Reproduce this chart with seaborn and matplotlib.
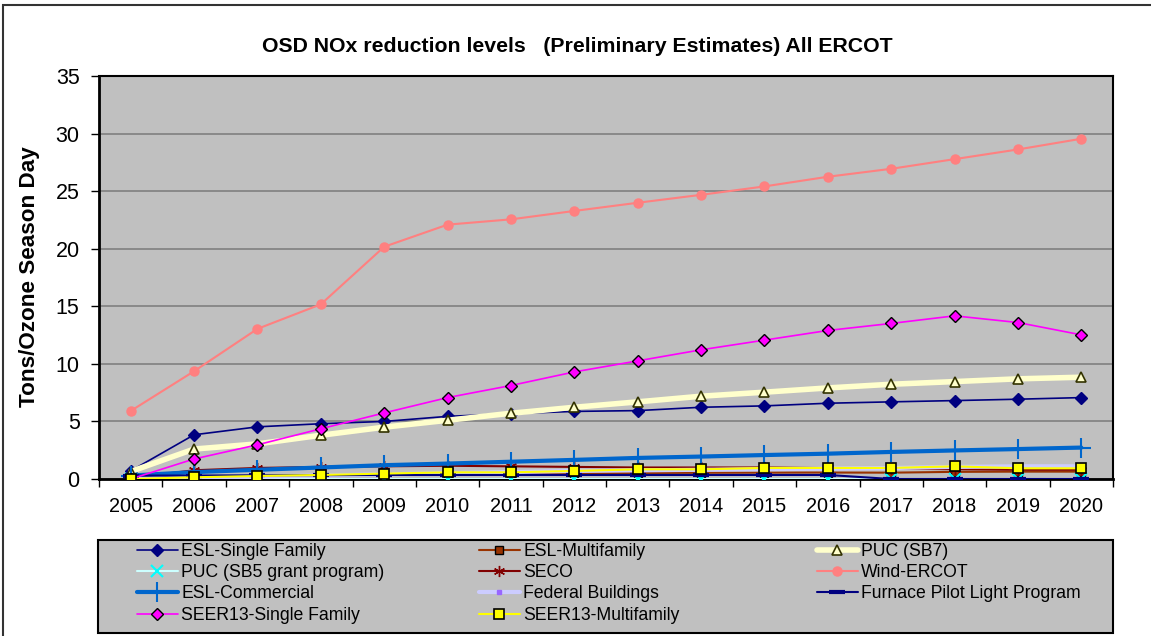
import matplotlib
matplotlib.use("Agg")
import matplotlib.pyplot as plt
from matplotlib.patches import Rectangle
import seaborn as sns
import pandas as pd
import numpy as np

years = ["2005", "2006", "2007", "2008", "2009", "2010", "2011", "2012",
         "2013", "2014", "2015", "2016", "2017", "2018", "2019", "2020"]

esl_single_family = [0.7, 3.84, 4.53, 4.8, 5.0, 5.44, 5.67, 5.87, 5.94, 6.23, 6.35, 6.58, 6.7, 6.81, 6.93, 7.07]
esl_multifamily = [0.05, 0.2, 0.28, 0.35, 0.4, 0.45, 0.48, 0.5, 0.52, 0.54, 0.55, 0.56, 0.55, 0.62, 0.64, 0.64]
puc_sb7 = [0.65, 2.6, 3.05, 3.8, 4.5, 5.1, 5.71, 6.23, 6.7, 7.19, 7.54, 7.91, 8.23, 8.46, 8.7, 8.84]
puc_sb5 = [0.0] * 16
seco = [0.1, 0.76, 0.96, 1.05, 1.1, 1.15, 1.1, 1.05, 1.0, 1.0, 1.0, 0.95, 0.9, 0.85, 0.8, 0.8]
wind_ercot = [5.91, 9.36, 13.04, 15.17, 20.17, 22.09, 22.55, 23.28, 23.99, 24.68, 25.41, 26.25, 26.94, 27.78, 28.62, 29.55]
esl_commercial = [0.3, 0.6, 0.8, 1.0, 1.2, 1.34, 1.5, 1.66, 1.83, 1.95, 2.08, 2.2, 2.35, 2.48, 2.6, 2.73]
federal_buildings = [0.0, 0.1, 0.2, 0.3, 0.4, 0.5, 0.6, 0.7, 0.75, 0.8, 0.85, 0.9, 0.95, 1.05, 1.1, 1.1]
furnace_pilot = [0.3, 0.3, 0.32, 0.33, 0.35, 0.35, 0.35, 0.35, 0.35, 0.35, 0.35, 0.35, 0.0, 0.0, 0.0, 0.0]
seer13_single = [0.0, 1.74, 2.97, 4.36, 5.74, 7.07, 8.12, 9.3, 10.26, 11.22, 12.06, 12.9, 13.51, 14.17, 13.59, 12.52]
seer13_multi = [0.0, 0.15, 0.26, 0.35, 0.47, 0.58, 0.58, 0.7, 0.84, 0.84, 0.96, 0.96, 0.96, 1.1, 0.93, 0.93]

series = [
    ("ESL-Single Family", esl_single_family, dict(color="#000080", lw=1.2, marker="D", ms=6, mfc="#000080", mec="#000080")),
    ("ESL-Multifamily", esl_multifamily, dict(color="#993300", lw=1.5, marker="s", ms=5.5, mfc="#993300", mec="#000000", mew=1.0)),
    ("PUC (SB7)", puc_sb7, dict(color="#FFFFCC", lw=4, marker="^", ms=7.5, mfc="#FFFFCC", mec="#333300", mew=1.2)),
    ("PUC (SB5 grant program)", puc_sb5, dict(color="#CCFFFF", lw=1.5, marker="x", ms=8, mfc="#00FFFF", mec="#00FFFF", mew=1.5)),
    ("SECO", seco, dict(color="#800000", lw=1.5, marker=(6, 2, 0), ms=8, mfc="#800000", mec="#800000", mew=1.0)),
    ("Wind-ERCOT", wind_ercot, dict(color="#FF8080", lw=1.5, marker="o", ms=6.5, mfc="#FF8080", mec="#FF8080")),
    ("ESL-Commercial", esl_commercial, dict(color="#0066CC", lw=3, marker="+", ms=14, mfc="#0066CC", mec="#0066CC", mew=1.5)),
    ("Federal Buildings", federal_buildings, dict(color="#CCCCFF", lw=3, marker="s", ms=2.5, mfc="#9966FF", mec="#9966FF")),
    ("Furnace Pilot Light Program", furnace_pilot, dict(color="#000080", lw=1.5, marker="_", ms=12, mfc="#000080", mec="#000080", mew=3)),
    ("SEER13-Single Family", seer13_single, dict(color="#FF00FF", lw=1.2, marker="D", ms=6, mfc="#FF00FF", mec="#000000", mew=1.0)),
    ("SEER13-Multifamily", seer13_multi, dict(color="#FFFF00", lw=1.5, marker="s", ms=7, mfc="#FFFF00", mec="#000000", mew=1.2)),
]

sns.set_theme(style="white")
plt.rcParams["font.family"] = ["Liberation Sans", "DejaVu Sans"]

W, H = 1151, 636
fig = plt.figure(figsize=(W / 100, H / 100), dpi=100)
fig.patch.set_facecolor("white")

# outer chart border (left and top visible)
fig.add_artist(Rectangle((3 / W, -0.2), 1.5, 1 - 5 / H + 0.2, transform=fig.transFigure,
                         fill=False, edgecolor="#333333", lw=1.5))

left, right, top, bottom = 99, 1113, 76, 479
ax = fig.add_axes([left / W, (H - bottom) / H, (right - left) / W, (bottom - top) / H])
ax.set_facecolor("#C0C0C0")

pos = np.arange(len(years))
handles = {}
for name, vals, st in series:
    df = pd.DataFrame({"pos": pos, "val": vals})
    sns.lineplot(data=df, x="pos", y="val", ax=ax, sort=False, errorbar=None,
                 color=st["color"], lw=st["lw"], marker=st["marker"], markersize=st["ms"],
                 markerfacecolor=st["mfc"], markeredgecolor=st["mec"],
                 markeredgewidth=st.get("mew", 1.0), label=name, legend=False, zorder=3)
    handles[name] = ax.lines[-1]

ax.set_xlim(-0.5, len(years) - 0.5)
ax.set_ylim(0, 35)
ax.set_yticks(range(0, 36, 5))
ax.yaxis.grid(True, color="#808080", lw=1.2)
ax.xaxis.grid(False)
ax.set_axisbelow(True)

ax.set_xticks(np.arange(-0.5, len(years), 1.0))
ax.set_xticklabels([])
ax.set_xticks(pos, minor=True)
ax.set_xticklabels(years, minor=True)
ax.tick_params(axis="x", which="major", direction="out", length=6, width=1, color="black", bottom=True)
ax.tick_params(axis="x", which="minor", length=0, pad=13, labelsize=14.3)
ax.tick_params(axis="y", direction="out", length=6, width=1, color="black", left=True, pad=8, labelsize=15.5)
for lbl in ax.get_yticklabels() + ax.get_xticklabels(minor=True):
    lbl.set_color("black")

for s in ["top", "right"]:
    ax.spines[s].set_color("black")
    ax.spines[s].set_linewidth(1.5)
for s in ["left", "bottom"]:
    ax.spines[s].set_color("black")
    ax.spines[s].set_linewidth(2)

ax.set_xlabel("")
ax.set_ylabel("Tons/Ozone Season Day", fontsize=16.2, fontweight="bold", color="black")
ax.yaxis.set_label_coords((40 - left) / (right - left), (bottom - 276.5) / (bottom - top))

fig.text(577 / W, 1 - 46 / H, "OSD NOx reduction levels   (Preliminary Estimates) All ERCOT",
         ha="center", va="center", fontsize=15.3, fontweight="bold", color="black")

# legend box
fig.add_artist(Rectangle((98 / W, (H - 633) / H), (1113 - 98) / W, (633 - 540) / H,
                         transform=fig.transFigure, facecolor="#C0C0C0", edgecolor="black", lw=1.5, zorder=1))

columns = [
    (137, ["ESL-Single Family", "PUC (SB5 grant program)", "ESL-Commercial", "SEER13-Single Family"]),
    (479, ["ESL-Multifamily", "SECO", "Federal Buildings", "SEER13-Multifamily"]),
    (817, ["PUC (SB7)", "Wind-ERCOT", "Furnace Pilot Light Program"]),
]
for x0, names in columns:
    leg = fig.legend([handles[n] for n in names], names, loc="upper left",
                     bbox_to_anchor=(x0 / W, 1 - 543 / H), bbox_transform=fig.transFigure,
                     frameon=False, fontsize=12.7, handlelength=2.3, handletextpad=0.2,
                     labelspacing=0.24, borderpad=0, borderaxespad=0)
    leg.set_zorder(5)
    for t in leg.get_texts():
        t.set_color("black")

fig.savefig("out.png", dpi=100, facecolor="white")
